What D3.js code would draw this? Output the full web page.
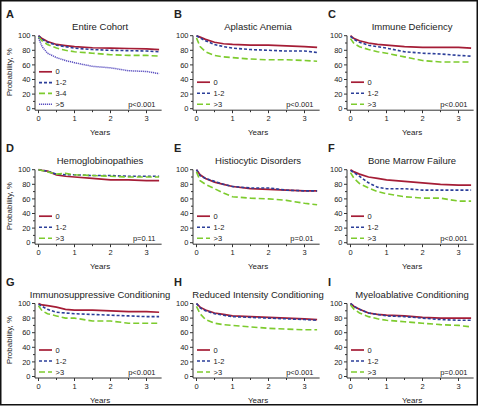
<!DOCTYPE html>
<html><head><meta charset="utf-8">
<script src="https://cdn.jsdelivr.net/npm/d3@7"></script>
<style>body{margin:0;background:#fff}svg{display:block}text{font-family:"Liberation Sans",Arial,sans-serif;fill:#222}</style>
</head><body><svg id="c" width="479" height="411"></svg>
<script>
// ---- data ----
const times = [0, 0.1, 0.25, 0.5, 0.75, 1, 1.5, 2, 2.5, 3, 3.35];
const panelLetters = ["A","B","C","D","E","F","G","H","I"];
const panelTitles = ["Entire Cohort","Aplastic Anemia","Immune Deficiency","Hemoglobinopathies","Histiocytic Disorders","Bone Marrow Failure","Immunosuppressive Conditioning","Reduced Intensity Conditioning","Myeloablative Conditioning"];
const pValues = ["p<0.001","p<0.001","p<0.001","p=0.11","p=0.01","p<0.001","p<0.001","p<0.001","p=0.001"];
const legendA = ["0","1-2","3-4",">5"];
const legendOther = ["0","1-2",">3"];
const yTicks = [0,20,40,60,80,100];
const xTicks = [0,1,2,3];

const A0  = [100, 96, 92, 88, 86.5, 85, 83.5, 83, 82.5, 82, 81];
const A12 = [100, 95, 91, 87, 85, 83, 81, 80, 79.5, 79, 78];
const A34 = [98, 93, 88, 83, 80, 78, 76, 74, 73, 73, 72];
const A5  = [97, 85, 76, 70, 66, 63, 58, 56, 52, 51, 48];
const B0  = [100, 98, 95, 91, 89, 88, 87, 87, 86, 85, 84];
const B12 = [100, 97, 93, 88, 85, 83, 81, 80, 79, 79, 77];
const B3  = [97, 85, 78, 73, 71, 70, 68, 67, 67, 66, 65];
const C0  = [100, 96, 93, 90, 88, 87, 85, 84, 84, 84, 83];
const C12 = [99, 95, 91, 87, 85, 83, 78, 76, 75, 73, 72];
const C3  = [96, 89, 85, 81, 78, 76, 71, 66, 64, 64, 64];
const D0  = [100, 99, 98, 93, 91, 90, 88, 86, 86, 85, 85];
const D12 = [100, 99, 98, 94, 93, 93, 92, 92, 91, 91, 91];
const D3  = [100, 99, 97, 94, 95, 93, 92, 91, 90, 90, 90];
const E0  = [100, 93, 88, 83, 80, 77, 74, 73, 72, 71, 71];
const E12 = [100, 92, 88, 84, 80, 77, 75, 75, 72, 71, 71];
const E3  = [97, 85, 80, 74, 68, 63, 61, 60, 58, 54, 52];
const F0  = [100, 97, 94, 90, 88, 86, 84, 82, 80, 79, 79];
const F12 = [99, 96, 91, 82, 76, 74, 74, 72, 72, 72, 72];
const F3  = [96, 88, 81, 75, 70, 67, 63, 61, 61, 57, 57];
const G0  = [100, 98, 97, 95, 92, 91, 91, 90, 89, 89, 88];
const G12 = [99, 96, 92, 88, 87, 86, 85, 84, 83, 82, 82];
const G3  = [97, 90, 86, 83, 80, 80, 76, 76, 73, 73, 73];
const H0  = [100, 95, 91, 87, 85, 83, 82, 81, 80, 79, 78];
const H12 = [100, 94, 90, 86, 84, 82, 81, 80, 79, 78, 77];
const H3  = [96, 86, 78, 73, 71, 70, 68, 66, 65, 64, 64];
const I0  = [100, 96, 92, 87, 85, 84, 83, 81, 80, 80, 80];
const I12 = [100, 96, 92, 87, 85, 83, 82, 80, 78, 77, 77];
const I3  = [98, 92, 87, 82, 79, 77, 75, 73, 71, 70, 68];

const panelSeries = [[A0,A12,A34,A5],[B0,B12,B3],[C0,C12,C3],[D0,D12,D3],[E0,E12,E3],[F0,F12,F3],[G0,G12,G3],[H0,H12,H3],[I0,I12,I3]];

// ---- styles ----
const styles = [
  {color:"#a51d36", dash:null, w:1.7},
  {color:"#2c3f9a", dash:"3,2", w:1.6},
  {color:"#7dcb2e", dash:"6,3", w:1.6},
  {color:"#5a4fc0", dash:"1.2,0.8", w:1.5}
];
const colAxisX = [35, 193, 347];
const rowTop = [35.7, 169.7, 303.5];
const plotH = 73;
const yearPx = 36;

const svg = d3.select("#c");
svg.append("rect").attr("x",0.75).attr("y",0.75).attr("width",476.5).attr("height",404)
  .attr("fill","none").attr("stroke","#111").attr("stroke-width",1.5);

panelSeries.forEach((series, i) => {
  const col = i % 3, row = Math.floor(i / 3);
  const ax = colAxisX[col], top = rowTop[row];
  const x0 = ax + 3.5;
  const x = d3.scaleLinear().domain([0, 3]).range([x0, x0 + 3 * yearPx]);
  const y = d3.scaleLinear().domain([0, 100]).range([top + plotH, top]);
  const g = svg.append("g");
  const xEnd = x(3.42);
  const bottom = y(0);

  g.append("line").attr("x1", ax).attr("x2", ax).attr("y1", y(100)).attr("y2", bottom + 1.5).attr("stroke","#333").attr("stroke-width",1);
  g.append("line").attr("x1", ax).attr("x2", xEnd).attr("y1", bottom + 1.5).attr("y2", bottom + 1.5).attr("stroke","#333").attr("stroke-width",1);
  d3.range(0, 101, 10).forEach(v => {
    const major = v % 20 === 0;
    g.append("line").attr("x1", ax - (major ? 3 : 2)).attr("x2", ax).attr("y1", y(v)).attr("y2", y(v)).attr("stroke","#333").attr("stroke-width",1);
  });
  yTicks.forEach(v => {
    g.append("text").attr("x", ax - 4.5).attr("y", y(v)).attr("dy","0.35em").attr("text-anchor","end")
      .attr("font-size", 7.5).text(v);
  });
  d3.range(0, 3.01, 0.5).forEach(v => {
    const major = Math.abs(v - Math.round(v)) < 1e-6;
    g.append("line").attr("x1", x(v)).attr("x2", x(v)).attr("y1", bottom + 1.5).attr("y2", bottom + 1.5 + (major ? 3 : 2)).attr("stroke","#333").attr("stroke-width",1);
  });
  xTicks.forEach(v => {
    g.append("text").attr("x", x(v)).attr("y", bottom + 12).attr("text-anchor","middle").attr("font-size", 7.5).text(v);
  });
  const cx = (x0 + xEnd) / 2;
  g.append("text").attr("x", cx).attr("y", bottom + 26).attr("text-anchor","middle").attr("font-size", 8).text("Years");
  g.append("text").attr("x", cx).attr("y", top - 6).attr("text-anchor","middle").attr("font-size", 9.5).text(panelTitles[i]);
  g.append("text").attr("x", col === 0 ? 6 : ax - 19).attr("y", top - 18).attr("font-size", 11).attr("font-weight","bold").attr("fill","#111").text(panelLetters[i]);
  if (col === 0) {
    g.append("text").attr("transform", `translate(${12},${(y(0)+y(100))/2}) rotate(-90)`).attr("text-anchor","middle").attr("font-size", 8).text("Probability, %");
  }
  const line = d3.line().x((d, k) => x(times[k])).y(d => y(d));
  series.forEach((s, k) => {
    const st = styles[k];
    g.append("path").attr("d", line(s)).attr("fill","none").attr("stroke", st.color).attr("stroke-width", st.w)
      .attr("stroke-dasharray", st.dash);
  });
  const labels = series.length === 4 ? legendA : legendOther;
  const spacing = series.length === 4 ? 10.8 : 11;
  labels.forEach((lab, k) => {
    const ly = top + 68.5 - (labels.length - 1 - k) * spacing;
    const st = styles[k];
    g.append("line").attr("x1", x0 + 0.5).attr("x2", x0 + 13.5).attr("y1", ly).attr("y2", ly)
      .attr("stroke", st.color).attr("stroke-width", st.w).attr("stroke-dasharray", st.dash);
    g.append("text").attr("x", x0 + 17).attr("y", ly).attr("dy","0.35em").attr("font-size", 7.5).text(lab);
  });
  g.append("text").attr("x", x(3.25)).attr("y", top + 68.5).attr("dy","0.35em").attr("text-anchor","end").attr("font-size", 7.5).text(pValues[i]);
});
</script></body></html>
